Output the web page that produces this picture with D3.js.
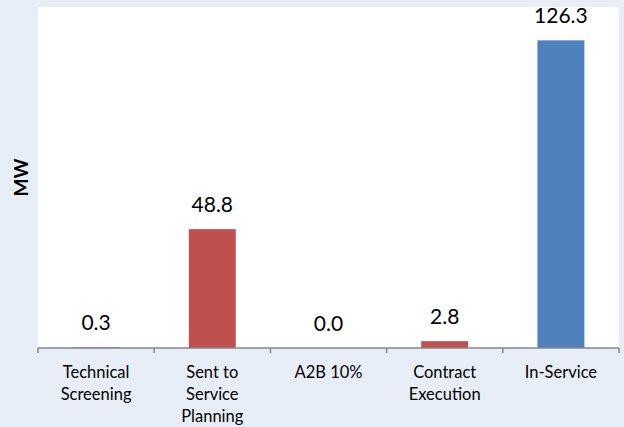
<!DOCTYPE html>
<html><head><meta charset="utf-8">
<script src="https://cdn.jsdelivr.net/npm/d3@7"></script>
<style>
html,body{margin:0;padding:0;background:#E8EEF7;}
svg{display:block;}
</style></head>
<body>
<svg id="chart" width="624" height="427"></svg>
<script>
const categories = [["Technical","Screening"],["Sent to","Service","Planning"],["A2B 10%"],["Contract","Execution"],["In-Service"]];
const values = [0.3, 48.8, 0.0, 2.8, 126.3];
const barColors = ["#C0504D","#C0504D","#C0504D","#C0504D","#4F81BD"];
const yTitle = "MW";
const yMax = 140;

const svg = d3.select("#chart");
const W = 624, H = 427;
const m = {left:38, right:5, top:7, bottom:79};
const pw = W - m.left - m.right, ph = H - m.top - m.bottom;

svg.append("rect").attr("width",W).attr("height",H).attr("fill","#E8EEF7");
svg.append("rect").attr("x",m.left).attr("y",m.top).attr("width",pw).attr("height",ph).attr("fill","#ffffff");

const keys = categories.map((c,i)=>i);
const x = d3.scaleBand().domain(keys).range([m.left, m.left+pw]).paddingInner(0.596).paddingOuter(0.298);
const y = d3.scaleLinear().domain([0,yMax]).range([m.top+ph, m.top]);

const g = svg.append("g");
g.selectAll("rect.bar").data(values).join("rect")
  .attr("class","bar")
  .attr("x",(d,i)=>x(i))
  .attr("width",x.bandwidth())
  .attr("y",d=>y(d))
  .attr("height",d=>y(0)-y(d))
  .attr("fill",(d,i)=>barColors[i]);

g.selectAll("text.val").data(values).join("text")
  .attr("class","val")
  .attr("x",(d,i)=>x(i)+x.bandwidth()/2)
  .attr("y",d=>y(d)-17)
  .attr("text-anchor","middle")
  .attr("font-family","Lato, 'Open Sans', sans-serif")
  .attr("font-size",21)
  .attr("fill","#000")
  .text(d=>d.toFixed(1));

// x axis
const ax = svg.append("g");
const step = x.step();
const bounds = d3.range(categories.length+1).map(i=>m.left + i*step);
ax.append("line").attr("x1",m.left).attr("x2",m.left+pw).attr("y1",y(0)).attr("y2",y(0))
  .attr("stroke","#868686").attr("stroke-width",1.5);
ax.selectAll("line.tick").data(bounds).join("line").attr("class","tick")
  .attr("x1",d=>d).attr("x2",d=>d).attr("y1",y(0)).attr("y2",y(0)+5)
  .attr("stroke","#868686").attr("stroke-width",1.5);

const lab = ax.selectAll("text.cat").data(categories).join("text").attr("class","cat")
  .attr("text-anchor","middle")
  .attr("font-family","Lato, 'Open Sans', sans-serif")
  .attr("font-size",16.5)
  .attr("fill","#000");
lab.each(function(lines,i){
  const t = d3.select(this);
  lines.forEach((ln,j)=>{
    t.append("tspan").attr("x",x(i)+x.bandwidth()/2).attr("y",y(0)+30+j*22).text(ln);
  });
});

svg.append("text")
  .attr("transform",`translate(28,${m.top+ph/2}) rotate(-90)`)
  .attr("text-anchor","middle")
  .attr("font-family","Lato, 'Open Sans', sans-serif")
  .attr("font-weight","bold")
  .attr("font-size",19)
  .attr("fill","#000")
  .text(yTitle);
</script>
</body></html>
